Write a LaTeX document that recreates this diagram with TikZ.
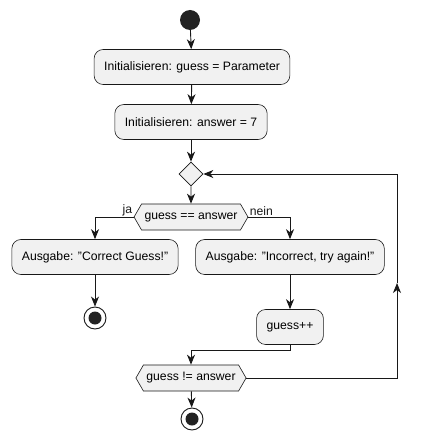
\documentclass[tikz,border=0pt]{standalone}
\usepackage{fontspec}
\setmainfont{Liberation Sans}
\usetikzlibrary{arrows.meta,shapes.geometric,shapes.symbols}
\definecolor{boxfill}{HTML}{F1F1F1}
\definecolor{boxline}{HTML}{181818}
\definecolor{dot}{HTML}{222222}
\begin{document}
\begin{tikzpicture}[x=1pt,y=-1pt,
    font=\fontsize{12.2}{14}\selectfont,
    arr/.style={-{Stealth[length=10pt,width=8pt,inset=3pt]},line width=0.9pt,boxline},
    act/.style={draw=boxline,fill=boxfill,line width=0.6pt,rounded corners=9pt,minimum height=35pt,inner xsep=10pt},
    cond/.style={shape=signal,signal to=west and east,signal pointer angle=120,draw=boxline,fill=boxfill,line width=0.6pt,minimum height=26pt,inner xsep=3pt,inner ysep=0pt},
    merge/.style={diamond,draw=boxline,fill=boxfill,line width=0.6pt,minimum size=24pt,inner sep=0pt},
    startdot/.style={circle,fill=dot,minimum size=20pt,inner sep=0pt},
    stopdot/.style={circle,draw=boxline,fill=white,line width=0.9pt,minimum size=22pt,inner sep=0pt,
      path picture={\fill[dot] (path picture bounding box.center) circle (6.5pt);}}]
  \useasboundingbox (0,0) rectangle (421,441);
  % nodes
  \node[startdot] (start) at (190,20) {};
  \node[act] (init1) at (192,67) {Initialisieren: guess = Parameter};
  \node[act] (init2) at (191,122) {Initialisieren: answer = 7};
  \node[merge] (loopin) at (191,174) {};
  \node[cond] (check) at (191,217) {guess == answer};
  \node[act] (right) at (95,257) {Ausgabe: "Correct Guess!"};
  \node[act] (wrong) at (290,257) {Ausgabe: "Incorrect, try again!"};
  \node[stopdot] (stopA) at (95,318) {};
  \node[act] (inc) at (290,327) {guess++};
  \node[cond] (again) at (191,378) {guess != answer};
  \node[stopdot] (stopB) at (192,419) {};
  \coordinate (join) at (0,350);
  \coordinate (back) at (397,283);
  % connectors
  \draw[arr] (start) -- (init1);
  \draw[arr] (init1) -- (init2);
  \draw[arr] (init2) -- (loopin);
  \draw[arr] (loopin) -- (check);
  \draw[arr] (check.west) node[above left,inner sep=1pt] {ja} -| (right.north);
  \draw[arr] (check.east) node[above right,inner sep=1pt] {nein} -| (wrong.north);
  \draw[arr] (right) -- (stopA);
  \draw[arr] (wrong) -- (inc);
  \draw[arr] (inc.south) -- (inc.south |- join) -| (again.north);
  \draw[arr] (again.east) -| (back);
  \draw[arr] (back) |- (loopin.east);
  \draw[arr] (again) -- (stopB);
\end{tikzpicture}
\end{document}
